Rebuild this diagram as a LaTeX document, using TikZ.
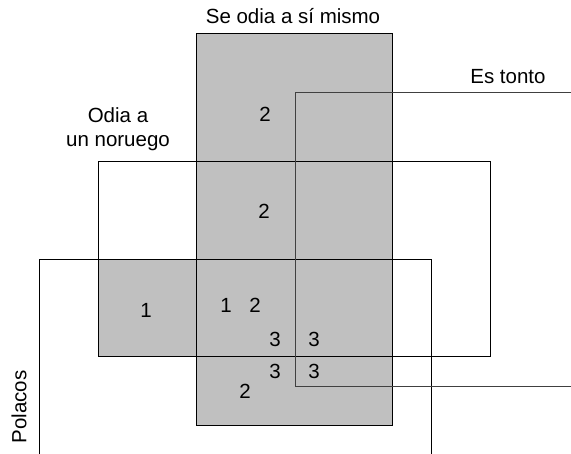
\documentclass[tikz,border=0pt]{standalone}
\usepackage{fontspec}
\setmainfont{Liberation Sans}
\usetikzlibrary{positioning}
\definecolor{vennfill}{RGB}{192,192,192}

\begin{document}
\begin{tikzpicture}[
        x=1pt, y=-1pt,
        every node/.style={
            inner sep=0pt,
            font=\fontsize{20.5}{24}\selectfont
        },
        region/.style={draw=black, line width=1pt},
        setname/.style={anchor=base},
        tally/.style={anchor=center}
      ]
      \useasboundingbox (0,0) rectangle (571,454);
      \clip (0,0) rectangle (571,454);
      % shaded part
      \fill[vennfill] (196,34) rectangle (392,426);
      \fill[vennfill] (98,260) rectangle (196,357);
      % the four sets
      \draw[region] (196,34) rectangle (392,426); % se odia a si mismo
      \draw[region] (98,162) rectangle (490,357); % odia a un noruego
      \draw[region] (39,260) rectangle (431,480); % polacos
      \draw[region, draw=black!75] (295,93) rectangle (600,387); % es tonto
      % names
      \node[setname] (self) at (293,24) {Se odia a sí mismo};
      \node[setname] (tonto) at (508,84) {Es tonto};
      \node[setname, align=center] (noruego) at (118,147) {Odia a\\un noruego};
      \node[rotate=90] (polacos) at (19,407) {Polacos};
      % counts
      \node[tally] (n1) at (265,114) {2};
      \node[tally] (n2) at (264,211) {2};
      \node[tally] (n3) at (146,310) {1};
      \node[tally] (n4) at (226,305) {1};
      \node[tally] (n5) at (255,305) {2};
      \node[tally] (n6) at (275,339) {3};
      \node[tally] (n7) at (314,339) {3};
      \node[tally] (n8) at (275,371) {3};
      \node[tally] (n9) at (314,371) {3};
      \node[tally] (n10) at (245,391) {2};
\end{tikzpicture}
\end{document}
